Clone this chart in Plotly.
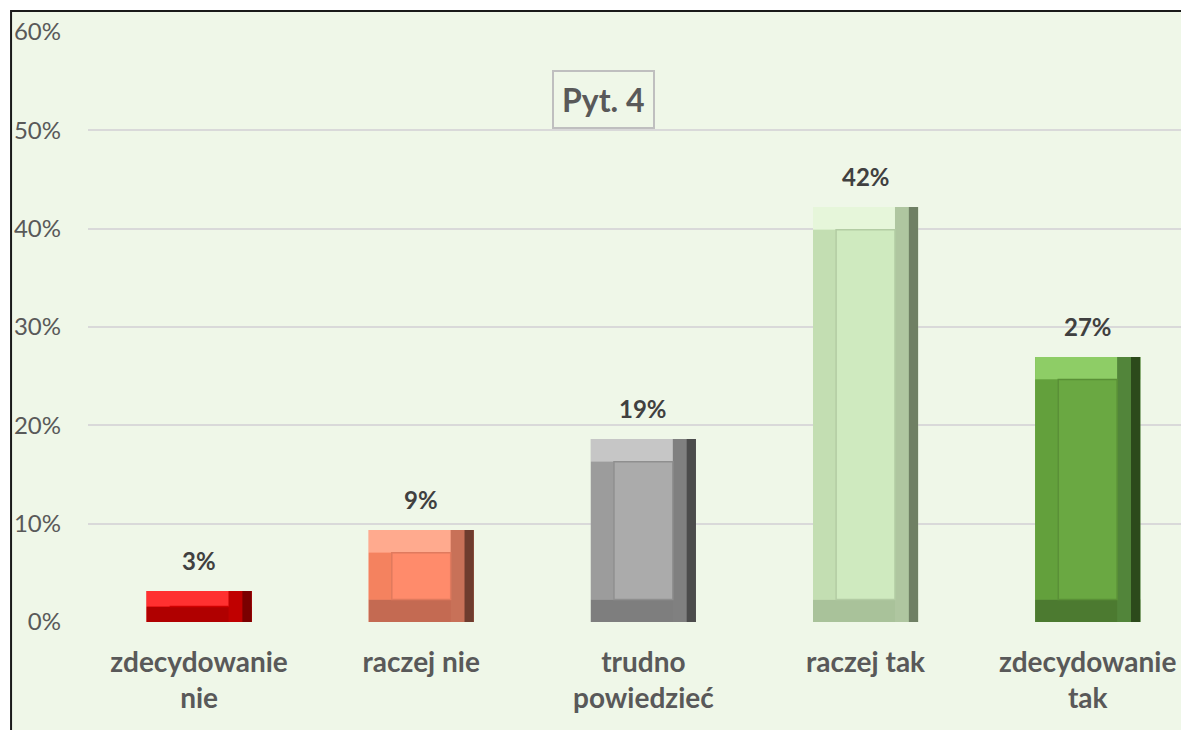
import plotly.graph_objects as go

# data
categories = ["zdecydowanie nie", "raczej nie", "trudno powiedzieć", "raczej tak", "zdecydowanie tak"]
tick_text = ["zdecydowanie<br>nie", "raczej nie", "trudno<br>powiedzieć", "raczej tak", "zdecydowanie<br>tak"]
values = [3.15, 9.35, 18.6, 42.2, 26.95]
value_labels = ["3%", "9%", "19%", "42%", "27%"]
y_ticks = [0, 10, 20, 30, 40, 50, 60]
y_tick_labels = ["0%", "10%", "20%", "30%", "40%", "50%", "60%"]

# bevel shades per bar
face = ["#F00000", "#FF8B6B", "#ABABAB", "#CFEABF", "#6AA842"]
left_c = ["#E00000", "#F4825F", "#9C9C9C", "#C3DEB2", "#63A03C"]
top_c = ["#FF3030", "#FFAA8E", "#C6C6C6", "#E6F6DA", "#8ECD66"]
bot_c = ["#B00000", "#C46A52", "#7E7E7E", "#A9C29A", "#4C7A30"]
right_mid = ["#C00000", "#C87158", "#808080", "#AFC6A0", "#52853A"]
right_dark = ["#7A0000", "#6E3C2E", "#4C4C4C", "#6F8064", "#2C4A1B"]
edge_c = ["#D00000", "#E07A5E", "#8F8F8F", "#B3CCA4", "#5A9037"]

grey = "#595959"
font = "Lato"
W = 0.473   # bar width (category units)
BX = 0.104  # bevel width
BY = 2.3    # bevel height (%)

bev = [min(BY, v / 2) for v in values]
inner = [max(v - 2 * b, 0) for v, b in zip(values, bev)]
tops = [v - b for v, b in zip(values, bev)]

traces = [
    go.Bar(x=categories, y=values, width=W, offset=-W / 2,
           marker=dict(color=face, line=dict(width=0))),
    go.Bar(x=categories, y=bev, base=[0] * len(values), width=W, offset=-W / 2,
           marker=dict(color=bot_c, line=dict(width=0))),
    go.Bar(x=categories, y=bev, base=tops, width=W, offset=-W / 2,
           marker=dict(color=top_c, line=dict(width=0))),
    go.Bar(x=categories, y=inner, base=bev, width=BX, offset=-W / 2,
           marker=dict(color=left_c, line=dict(width=0))),
    go.Bar(x=categories, y=values, width=BX, offset=W / 2 - BX,
           marker=dict(color=right_mid, line=dict(width=0))),
    go.Bar(x=categories, y=values, width=BX * 0.4, offset=W / 2 - BX * 0.4,
           marker=dict(color=right_dark, line=dict(width=0))),
    go.Bar(x=categories, y=inner, base=bev, width=W - 2 * BX, offset=-W / 2 + BX,
           marker=dict(color=face, line=dict(color=edge_c, width=1.5))),
]

fig = go.Figure(data=traces)

annotations = [
    dict(x=c, y=v, xref="x", yref="y", text="<b>%s</b>" % t, showarrow=False,
         yanchor="bottom", yshift=14, font=dict(family=font, size=24, color="#404040"))
    for c, v, t in zip(categories, values, value_labels)
]
annotations.append(dict(
    x=0.472, y=0.9356, xref="paper", yref="paper", text="<b>Pyt. 4</b>", showarrow=False,
    font=dict(family=font, size=32, color=grey), bordercolor="#BFBFBF", borderwidth=2,
    borderpad=8, bgcolor="rgba(0,0,0,0)"))

fig.update_layout(
    width=1181, height=730,
    margin=dict(l=88, r=0, t=32, b=108),
    paper_bgcolor="white",
    plot_bgcolor="rgba(0,0,0,0)",
    barmode="overlay",
    showlegend=False,
    annotations=annotations,
    shapes=[dict(type="rect", xref="paper", yref="paper", x0=-0.0704, x1=1.2, y0=-0.4, y1=1.0356,
                 fillcolor="#EFF7E8", line=dict(color="#1A1A1A", width=2), layer="below")],
    xaxis=dict(range=[-0.5, 4.42], showgrid=False, showline=False, ticks="",
               tickvals=categories, ticktext=["<b>%s</b>" % t for t in tick_text],
               ticklabelstandoff=21, tickfont=dict(family=font, size=28, color=grey)),
    yaxis=dict(range=[0, 60], tickvals=y_ticks, ticktext=y_tick_labels,
               showgrid=True, gridcolor="#D9D9D9", gridwidth=2, zeroline=False,
               ticklabelstandoff=26, tickfont=dict(family=font, size=24, color=grey)),
)

fig.write_html("out.html", config={"displayModeBar": False},
               post_script="document.body.style.margin='0';document.body.style.overflow='hidden';")
